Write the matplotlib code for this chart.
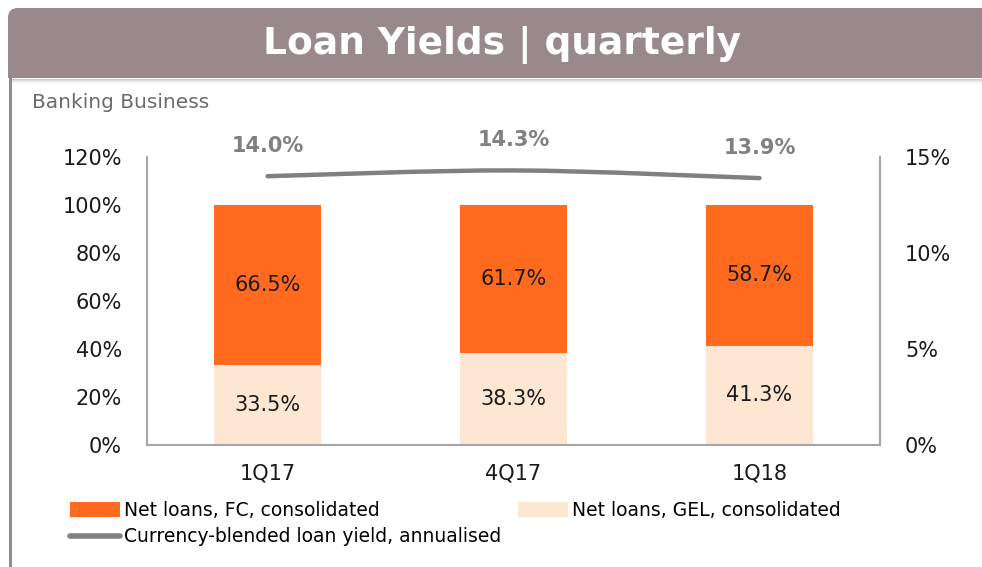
import matplotlib
matplotlib.use("Agg")
import matplotlib.pyplot as plt
import numpy as np
from matplotlib.patches import FancyBboxPatch, Rectangle, PathPatch, Patch
from matplotlib.path import Path
from matplotlib.lines import Line2D

plt.rcParams['font.family'] = ['DejaVu Sans']

# ---- data ----
categories = ["1Q17", "4Q17", "1Q18"]
gel_share = [33.5, 38.3, 41.3]
fc_share = [66.5, 61.7, 58.7]
loan_yield = [14.0, 14.3, 13.9]
left_ticks = [0, 20, 40, 60, 80, 100, 120]
right_ticks = [0, 5, 10, 15]

title = "Loan Yields | quarterly"
subtitle = "Banking Business"
leg_fc = "Net loans, FC, consolidated"
leg_gel = "Net loans, GEL, consolidated"
leg_line = "Currency-blended loan yield, annualised"

# ---- style ----
W, H = 982, 567
C_FC = "#FF6A1F"
C_GEL = "#FDE7D3"
C_LINE = "#808080"
C_BANNER = "#9A898C"
C_SPINE = "#A6A6A6"
C_TEXT = "#1A1A1A"

fig = plt.figure(figsize=(W / 100, H / 100), dpi=100)

def fx(px):
    return px / W

def fy(py):
    return 1 - py / H

def rect(x0, y0, x1, y1, **kw):
    # pixel box (top-left origin) -> figure rectangle
    return Rectangle((fx(x0), fy(y1)), fx(x1 - x0), (y1 - y0) / H,
                     transform=fig.transFigure, lw=0, **kw)

# banner shadow
for i, a in enumerate([0.20, 0.13, 0.08, 0.04, 0.02]):
    fig.patches.append(rect(12, 79 + i, W, 80 + i, color="black", alpha=a))
# banner: rounded top-left corner, square elsewhere
fig.patches.append(FancyBboxPatch((fx(8), fy(78)), fx(52), 70 / H,
                                  boxstyle="round,pad=0,rounding_size=0.010",
                                  transform=fig.transFigure, facecolor=C_BANNER,
                                  edgecolor="none", mutation_aspect=W / H))
fig.patches.append(rect(8, 40, 60, 78, color=C_BANNER))
fig.patches.append(rect(30, 8, W, 78, color=C_BANNER))
# left border line
fig.patches.append(rect(9, 78, 12, H, color=C_BANNER))

fig.text(fx(502), fy(45), title, color="white", fontsize=27, fontweight="bold",
         ha="center", va="center")
fig.text(fx(32), fy(102), subtitle, color="#6B6B6B", fontsize=14.5, ha="left", va="center")

ax = fig.add_axes([fx(147), fy(445), fx(880) - fx(147), (445 - 157) / H])
x = np.arange(len(categories))
bw = 0.436
ax.bar(x, gel_share, width=bw, color=C_GEL, zorder=2)
ax.bar(x, fc_share, width=bw, bottom=gel_share, color=C_FC, zorder=2)
for xi, g, f in zip(x, gel_share, fc_share):
    ax.text(xi, g / 2, f"{g:.1f}%", ha="center", va="center", fontsize=15, color=C_TEXT)
    ax.text(xi, g + f / 2, f"{f:.1f}%", ha="center", va="center", fontsize=15, color=C_TEXT)

ax.set_xlim(-0.49, 2.49)
ax.set_ylim(0, 120)
ax.set_yticks(left_ticks)
ax.set_yticklabels([f"{t}%" for t in left_ticks])
ax.set_xticks(x)
ax.set_xticklabels(categories)
ax.tick_params(axis="both", length=0, labelsize=15, colors=C_TEXT)
ax.tick_params(axis="y", pad=18)
ax.tick_params(axis="x", pad=13)
ax.spines["top"].set_visible(False)
for s in ["left", "bottom", "right"]:
    ax.spines[s].set_color(C_SPINE)
    ax.spines[s].set_linewidth(1.5)

ax2 = ax.twinx()
ax2.set_ylim(0, 15)
ax2.set_yticks(right_ticks)
ax2.set_yticklabels([f"{t}%" for t in right_ticks])
ax2.tick_params(axis="y", length=0, labelsize=15, colors=C_TEXT, pad=18)
for s in ["top", "left", "bottom"]:
    ax2.spines[s].set_visible(False)
ax2.spines["right"].set_color(C_SPINE)
ax2.spines["right"].set_linewidth(1.5)

# smoothed line through the yield points (Bezier path, Excel-like smoothing)
P = np.column_stack([x, loan_yield]).astype(float)
verts = [P[0]]
codes = [Path.MOVETO]
n = len(P)
for i in range(n - 1):
    p_prev = P[i - 1] if i > 0 else P[i]
    p_next = P[i + 2] if i + 2 < n else P[i + 1]
    c1 = P[i] + (P[i + 1] - p_prev) / 6
    c2 = P[i + 1] - (p_next - P[i]) / 6
    verts += [c1, c2, P[i + 1]]
    codes += [Path.CURVE4] * 3
ax2.add_patch(PathPatch(Path(verts, codes), facecolor="none", edgecolor=C_LINE,
                        lw=3.2, capstyle="round", zorder=3))
for xi, v in zip(x, loan_yield):
    ax2.annotate(f"{v:.1f}%", (xi, v), xytext=(0, 22), textcoords="offset points",
                 ha="center", va="center", fontsize=15, fontweight="bold", color=C_LINE)

# legends
leg_kw = dict(loc="upper left", frameon=False, fontsize=13.5, handlelength=2.67,
              handleheight=0.8, handletextpad=0.2, labelspacing=0.4,
              borderaxespad=0, borderpad=0)
leg1 = fig.legend([Patch(facecolor=C_FC, edgecolor="none"),
                   Line2D([], [], color=C_LINE, lw=4, solid_capstyle="round")],
                  [leg_fc, leg_line], bbox_to_anchor=(fx(70), fy(501)), **leg_kw)
leg2 = fig.legend([Patch(facecolor=C_GEL, edgecolor="none")], [leg_gel],
                  bbox_to_anchor=(fx(518), fy(501)), **leg_kw)

fig.savefig("out.png", dpi=100)
